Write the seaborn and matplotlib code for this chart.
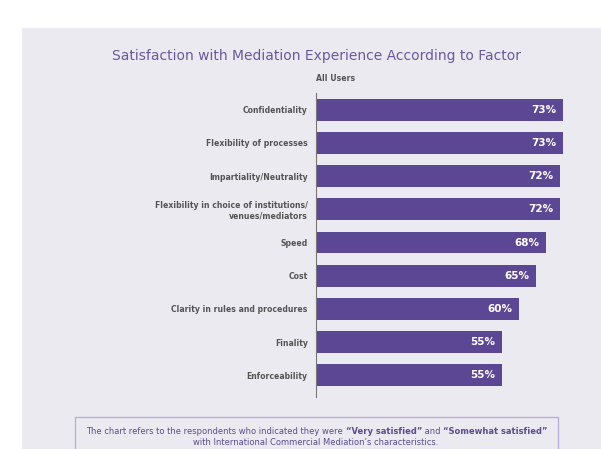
import matplotlib
matplotlib.use("Agg")
import matplotlib.pyplot as plt
import seaborn as sns
import pandas as pd
from matplotlib.patches import Rectangle

# chart data
factors = [
    "Confidentiality",
    "Flexibility of processes",
    "Impartiality/Neutrality",
    "Flexibility in choice of institutions/\nvenues/mediators",
    "Speed",
    "Cost",
    "Clarity in rules and procedures",
    "Finality",
    "Enforceability",
]
all_users = [73, 73, 72, 72, 68, 65, 60, 55, 55]

title = "Satisfaction with Mediation Experience According to Factor"
series_name = "All Users"

sns.set_theme(style="white")
plt.rcParams['font.family'] = ['DejaVu Sans']

bar_color = "#5b4793"
panel_color = "#eceaf1"
label_color = "#555555"

df = pd.DataFrame({"factor": factors, "value": all_users})

fig = plt.figure(figsize=(6.01, 4.49), dpi=100)
fig.patch.set_facecolor("white")

# light panel behind everything
fig.patches.append(Rectangle((22 / 601, 0), 1, 1 - 28 / 449, transform=fig.transFigure,
                             facecolor=panel_color, edgecolor="none", zorder=-10))

ax = fig.add_axes([316 / 601, 1 - 397 / 449, 264 / 601, (397 - 93) / 449])
ax.set_facecolor("none")

sns.barplot(data=df, x="value", y="factor", orient="h", color=bar_color,
            saturation=1, width=0.66, linewidth=0, ax=ax)

ax.set_xlim(0, 78)
ax.set_ylim(len(factors) - 0.35, -0.5)
ax.set_xlabel("")
ax.set_ylabel("")
ax.set_xticks([])
for s in ["top", "right", "bottom"]:
    ax.spines[s].set_visible(False)
ax.spines["left"].set_color("#777777")
ax.spines["left"].set_linewidth(0.8)
ax.tick_params(axis="y", length=0, pad=6)
for lab in ax.get_yticklabels():
    lab.set_fontsize(5.6)
    lab.set_fontweight("bold")
    lab.set_color(label_color)
    lab.set_horizontalalignment("right")
    lab.set_multialignment("right")

# value labels inside bar ends
for i, v in enumerate(all_users):
    ax.text(v - 2.0, i, f"{v}%", ha="right", va="center", color="white",
            fontsize=7.5, fontweight="bold")

ax.text(0, -0.8, series_name, ha="left", va="bottom", fontsize=5.6,
        fontweight="bold", color=label_color)

fig.text(317 / 601, 1 - 56 / 449, title, ha="center", va="center",
         fontsize=10, color="#6a5a9c")

# footnote box
fig.patches.append(Rectangle((75 / 601, -0.05), (558 - 75) / 601, 0.05 + 1 - 417 / 449,
                             transform=fig.transFigure, facecolor="none",
                             edgecolor="#b9aed3", linewidth=1.0))

note_color = "#5b4d8e"
pieces = [("The chart refers to the respondents who indicated they were ", "normal"),
          ("\u201cVery satisfied\u201d", "bold"),
          (" and ", "normal"),
          ("\u201cSomewhat satisfied\u201d", "bold")]
renderer = fig.canvas.get_renderer()
texts = []
for txt, w in pieces:
    t = fig.text(0, 1 - 434 / 449, txt, ha="left", va="baseline", fontsize=6.0,
                 fontweight=w, color=note_color)
    texts.append(t)
widths = [t.get_window_extent(renderer).width for t in texts]
x0 = 317 - sum(widths) / 2
for t, wd in zip(texts, widths):
    t.set_x(x0 / 601)
    x0 += wd
fig.text(316 / 601, 1 - 445 / 449, "with International Commercial Mediation\u2019s characteristics.",
         ha="center", va="baseline", fontsize=6.0, color=note_color)

fig.savefig("out.png", dpi=100, facecolor=fig.get_facecolor())
